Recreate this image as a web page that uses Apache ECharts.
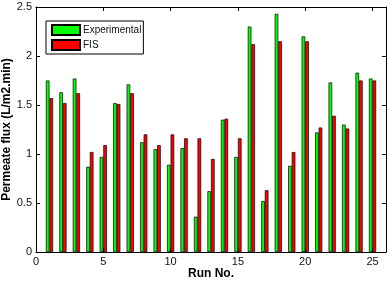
<!DOCTYPE html>
<html>
<head>
<meta charset="utf-8">
<script src="https://cdn.jsdelivr.net/npm/echarts@6/dist/echarts.min.js"></script>
<style>
  html, body { margin: 0; padding: 0; background: #fff; }
  #chart { width: 388px; height: 281px; }
</style>
</head>
<body>
<div id="chart"></div>
<script>
  // 数据
  var runs = [1, 2, 3, 4, 5, 6, 7, 8, 9, 10, 11, 12, 13, 14, 15, 16, 17, 18, 19, 20, 21, 22, 23, 24, 25];
  var experimental = [1.75, 1.63, 1.77, 0.87, 0.97, 1.52, 1.71, 1.12, 1.05, 0.89, 1.06, 0.36, 0.62, 1.35, 0.97, 2.30, 0.52, 2.43, 0.88, 2.20, 1.22, 1.73, 1.30, 1.83, 1.77];
  var fis = [1.57, 1.52, 1.62, 1.02, 1.09, 1.51, 1.62, 1.20, 1.09, 1.20, 1.16, 1.16, 0.95, 1.36, 1.16, 2.12, 0.63, 2.15, 1.02, 2.15, 1.27, 1.39, 1.26, 1.75, 1.75];

  function pairs(vals) {
    return runs.map(function (r, i) { return [r, vals[i]]; });
  }

  var chart = echarts.init(document.getElementById('chart'));
  var font = 'Liberation Sans, Arial, sans-serif';

  var option = {
    animation: false,
    textStyle: { fontFamily: font },
    grid: { left: 36, right: 2, top: 7, bottom: 29, outerBoundsMode: 'none' },
    // 图例
    legend: {
      orient: 'vertical',
      left: 46,
      top: 21,
      padding: [3, 2, 3, 5],
      itemGap: 3,
      itemWidth: 28,
      itemHeight: 10,
      borderColor: '#000',
      borderWidth: 1,
      backgroundColor: '#fff',
      textStyle: { fontSize: 10, color: '#111', padding: [0, 0, 0, -2] },
      data: [
        { name: 'Experimental', icon: 'rect' },
        { name: 'FIS', icon: 'rect' }
      ]
    },
    xAxis: [{
      type: 'value',
      min: 0,
      max: 26,
      interval: 5,
      name: 'Run No.',
      nameLocation: 'middle',
      nameGap: 16,
      nameMoveOverlap: false,
      nameTextStyle: { fontWeight: 'bold', fontSize: 12, color: '#000' },
      axisLine: { lineStyle: { color: '#000' } },
      axisTick: { inside: true, length: 4, lineStyle: { color: '#000' } },
      axisLabel: { fontSize: 11, color: '#111', margin: 4, showMaxLabel: false },
      splitLine: { show: false }
    }, {
      type: 'value',
      position: 'top',
      min: 0,
      max: 26,
      interval: 5,
      axisLine: { show: true, onZero: false, lineStyle: { color: '#000' } },
      axisTick: { inside: true, length: 4, lineStyle: { color: '#000' } },
      axisLabel: { show: false },
      splitLine: { show: false }
    }],
    yAxis: [{
      type: 'value',
      min: 0,
      max: 2.5,
      interval: 0.5,
      name: 'Permeate flux (L/m2.min)',
      nameLocation: 'middle',
      nameGap: 23,
      nameMoveOverlap: false,
      nameTextStyle: { fontWeight: 'bold', fontSize: 12, color: '#000' },
      axisLine: { show: true, lineStyle: { color: '#000' } },
      axisTick: { show: true, inside: true, length: 4, lineStyle: { color: '#000' } },
      axisLabel: { fontSize: 11, color: '#111', margin: 4 },
      splitLine: { show: false }
    }, {
      type: 'value',
      position: 'right',
      min: 0,
      max: 2.5,
      interval: 0.5,
      axisLine: { show: true, onZero: false, lineStyle: { color: '#000' } },
      axisTick: { show: true, inside: true, length: 4, lineStyle: { color: '#000' } },
      axisLabel: { show: false },
      splitLine: { show: false }
    }],
    series: [{
      name: 'Experimental',
      type: 'bar',
      barWidth: 3.6,
      barGap: '0%',
      data: pairs(experimental),
      itemStyle: { color: '#00ff00', borderColor: '#000', borderWidth: 0.7 }
    }, {
      name: 'FIS',
      type: 'bar',
      barWidth: 3.6,
      barGap: '0%',
      data: pairs(fis),
      itemStyle: { color: '#ff0000', borderColor: '#000', borderWidth: 0.7 }
    }]
  };
  chart.setOption(option);
</script>
</body>
</html>
